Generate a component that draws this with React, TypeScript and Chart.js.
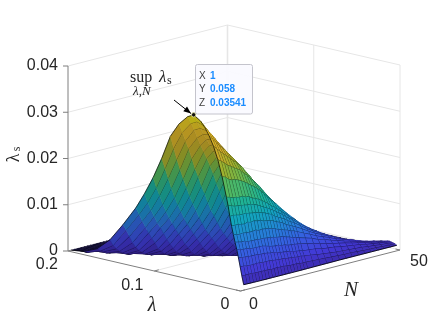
import React, { useEffect, useRef } from "react";
import { Chart, registerables } from "chart.js";

Chart.register(...registerables);

// Grid of the surface: N, lambda (x 1e-3) and the height (x 1e-3)
const nValues = [1, 2, 3, 4, 5, 6, 7, 8, 9, 10, 11, 12, 13, 14, 15, 16, 17, 18, 19, 20, 21, 23, 25, 27, 29, 31, 33, 35, 37, 39, 41, 43, 45, 47, 49];
const lambdaMilli = [0, 2, 4, 6, 8, 10, 12, 14, 16, 18, 20, 25, 30, 35, 40, 45, 50, 58, 65, 75, 85, 95, 105, 115, 125, 140, 155, 170, 185, 200];
const zMilliCoarse = [
  [1.2, 4.8, 8.4, 11.5, 15.2, 19.2, 23.4, 26.9, 29.6, 31.6, 33.2, 34.4, 35.4, 34.7, 32.7, 29.6, 24.4, 19.8, 15.9, 12.4, 8.1, 4.2, 1.6, 0.4, 0],
  [1.2, 4.9, 8.4, 11.4, 15.5, 19.3, 23.5, 26.8, 29.3, 31.2, 32.8, 33.8, 34.3, 33.6, 31.2, 27.3, 22.4, 17.8, 14.1, 11.0, 6.9, 2.9, 1.0, 0, 0],
  [1.2, 4.8, 8.3, 11.5, 15.6, 19.3, 23.2, 26.6, 29.0, 30.8, 32.4, 33.0, 33.2, 32.5, 29.6, 25.1, 20.4, 16.1, 12.4, 9.5, 5.4, 2.0, 0.7, 0, 0],
  [1.2, 4.8, 8.4, 11.7, 15.6, 19.4, 23.1, 26.2, 28.6, 30.3, 31.7, 32.3, 32.0, 30.9, 28.0, 22.9, 18.2, 14.1, 10.9, 8.0, 3.9, 1.3, 0.2, 0, 0],
  [1.2, 4.8, 8.3, 11.7, 15.7, 19.4, 23.2, 26.0, 28.2, 29.8, 30.9, 31.5, 30.9, 29.3, 25.8, 20.8, 16.1, 12.4, 9.3, 6.6, 2.7, 0.8, 0, 0, 0],
  [1.2, 4.9, 8.2, 11.7, 15.8, 19.5, 23.0, 25.6, 27.6, 29.2, 30.0, 30.2, 29.5, 27.7, 23.4, 18.7, 14.3, 10.8, 8.1, 5.2, 1.8, 0.3, 0, 0, 0],
  [1.2, 4.9, 8.2, 11.7, 15.7, 19.2, 22.7, 25.2, 26.9, 28.3, 29.0, 29.0, 28.0, 26.1, 21.5, 16.6, 12.6, 9.4, 6.6, 4.0, 1.2, 0, 0, 0, 0],
  [1.2, 4.8, 8.2, 11.9, 15.6, 19.2, 22.3, 24.8, 26.4, 27.5, 28.2, 27.8, 26.4, 24.3, 19.2, 14.7, 10.9, 7.9, 5.1, 2.5, 0.6, 0, 0, 0, 0],
  [1.2, 4.8, 8.2, 11.6, 15.5, 18.7, 21.8, 24.0, 25.6, 26.6, 26.9, 26.5, 24.7, 22.3, 17.3, 13.0, 9.3, 6.6, 3.9, 1.8, 0.3, 0, 0, 0, 0],
  [1.2, 4.8, 8.0, 11.7, 15.3, 18.4, 21.2, 23.3, 24.9, 25.6, 25.5, 25.2, 23.0, 20.0, 15.1, 11.1, 8.0, 5.3, 2.7, 1.0, 0, 0, 0, 0, 0],
  [1.2, 4.7, 7.8, 11.6, 15.1, 18.0, 20.7, 22.5, 23.8, 24.5, 24.1, 23.5, 21.3, 17.9, 13.1, 9.6, 6.7, 3.9, 1.7, 0.6, 0, 0, 0, 0, 0],
  [1.2, 4.6, 7.6, 11.5, 14.9, 17.6, 20.1, 21.8, 22.9, 23.3, 22.8, 21.9, 19.3, 15.8, 11.6, 8.0, 5.4, 2.9, 1.2, 0.2, 0, 0, 0, 0, 0],
  [1.2, 4.5, 7.5, 11.3, 14.5, 17.1, 19.4, 20.9, 21.7, 21.8, 21.3, 20.1, 17.1, 13.9, 9.9, 6.8, 4.2, 1.8, 0.7, 0, 0, 0, 0, 0, 0],
  [1.2, 4.5, 7.5, 11.1, 14.2, 16.5, 18.6, 20.1, 20.7, 20.5, 19.8, 18.4, 15.2, 12.0, 8.3, 5.6, 3.0, 1.0, 0.2, 0, 0, 0, 0, 0, 0],
  [1.2, 4.4, 7.2, 10.7, 13.6, 15.8, 17.7, 19.0, 19.5, 19.1, 18.1, 16.9, 13.3, 10.3, 7.0, 4.5, 2.0, 0.7, 0, 0, 0, 0, 0, 0, 0],
  [1.2, 4.3, 7.2, 10.5, 13.2, 15.3, 16.9, 18.0, 18.2, 17.8, 16.6, 14.8, 11.3, 8.7, 5.8, 3.2, 1.2, 0.3, 0, 0, 0, 0, 0, 0, 0],
  [1.2, 4.2, 6.9, 10.2, 12.8, 14.6, 16.2, 17.0, 17.0, 16.3, 15.1, 13.2, 9.8, 7.4, 4.7, 2.4, 0.7, 0, 0, 0, 0, 0, 0, 0, 0],
  [1.2, 4.1, 6.8, 10.0, 12.4, 14.0, 15.4, 16.0, 15.8, 15.0, 13.7, 11.6, 8.4, 6.3, 3.8, 1.5, 0.4, 0, 0, 0, 0, 0, 0, 0, 0],
  [1.2, 4.0, 6.7, 9.6, 11.8, 13.3, 14.5, 15.0, 14.6, 13.6, 12.0, 10.0, 7.1, 5.1, 2.9, 1.0, 0.2, 0, 0, 0, 0, 0, 0, 0, 0],
  [1.2, 4.0, 6.6, 9.4, 11.3, 12.7, 13.7, 13.9, 13.4, 12.3, 10.4, 8.7, 6.0, 4.1, 2.0, 0.5, 0, 0, 0, 0, 0, 0, 0, 0, 0],
  [1.2, 3.8, 6.4, 9.0, 10.9, 11.9, 12.8, 12.8, 12.2, 10.9, 9.0, 7.2, 4.9, 3.3, 1.2, 0.3, 0, 0, 0, 0, 0, 0, 0, 0, 0],
  [1.2, 3.6, 6.0, 8.2, 9.7, 10.7, 11.2, 10.9, 9.9, 8.3, 6.5, 5.1, 3.2, 1.8, 0.4, 0, 0, 0, 0, 0, 0, 0, 0, 0, 0],
  [1.2, 3.3, 5.6, 7.5, 8.6, 9.3, 9.5, 8.9, 7.8, 6.1, 4.7, 3.5, 2.0, 0.8, 0.1, 0, 0, 0, 0, 0, 0, 0, 0, 0, 0],
  [1.2, 3.1, 5.2, 6.7, 7.6, 8.1, 8.0, 7.2, 5.8, 4.4, 3.2, 2.3, 1.0, 0.3, 0, 0, 0, 0, 0, 0, 0, 0, 0, 0, 0],
  [1.2, 2.9, 4.8, 6.1, 6.8, 7.1, 6.7, 5.6, 4.2, 3.0, 2.1, 1.3, 0.3, 0, 0, 0, 0, 0, 0, 0, 0, 0, 0, 0, 0],
  [1.2, 2.7, 4.4, 5.5, 6.0, 6.0, 5.4, 4.2, 3.0, 2.0, 1.3, 0.6, 0.1, 0, 0, 0, 0, 0, 0, 0, 0, 0, 0, 0, 0],
  [1.2, 2.6, 4.1, 4.9, 5.3, 5.1, 4.3, 3.0, 2.0, 1.3, 0.6, 0.2, 0, 0, 0, 0, 0, 0, 0, 0, 0, 0, 0, 0, 0],
  [1.2, 2.5, 3.8, 4.4, 4.6, 4.3, 3.3, 2.2, 1.4, 0.7, 0.2, 0, 0, 0, 0, 0, 0, 0, 0, 0, 0, 0, 0, 0, 0],
  [1.2, 2.4, 3.4, 3.9, 3.9, 3.5, 2.5, 1.5, 0.9, 0.3, 0.1, 0, 0, 0, 0, 0, 0, 0, 0, 0, 0, 0, 0, 0, 0],
  [1.2, 2.3, 3.1, 3.5, 3.4, 2.7, 1.8, 1.0, 0.4, 0.1, 0, 0, 0, 0, 0, 0, 0, 0, 0, 0, 0, 0, 0, 0, 0],
  [1.2, 2.1, 2.8, 3.0, 2.8, 2.1, 1.2, 0.6, 0.2, 0, 0, 0, 0, 0, 0, 0, 0, 0, 0, 0, 0, 0, 0, 0, 0],
  [1.2, 2.0, 2.5, 2.6, 2.3, 1.5, 0.8, 0.3, 0.1, 0, 0, 0, 0, 0, 0, 0, 0, 0, 0, 0, 0, 0, 0, 0, 0],
  [1.2, 1.8, 2.2, 2.3, 1.8, 1.1, 0.5, 0.1, 0, 0, 0, 0, 0, 0, 0, 0, 0, 0, 0, 0, 0, 0, 0, 0, 0],
  [1.2, 1.7, 2.0, 1.9, 1.3, 0.7, 0.3, 0, 0, 0, 0, 0, 0, 0, 0, 0, 0, 0, 0, 0, 0, 0, 0, 0, 0],
  [1.2, 1.5, 1.7, 1.5, 1.0, 0.5, 0.1, 0, 0, 0, 0, 0, 0, 0, 0, 0, 0, 0, 0, 0, 0, 0, 0, 0, 0],
];
// Heights at lambda = 2, 6, 10, 14, 18 (x 1e-3), the near face needs the finer rows
const zMilliFine = [
  [2.9, 6.7, 9.9, 13.2, 17.4], [3.0, 6.7, 9.9, 13.4, 17.5], [3.0, 6.7, 9.9, 13.6, 17.5], [3.1, 6.7, 10.0, 13.6, 17.6],
  [3.0, 6.7, 9.8, 13.6, 17.6], [3.0, 6.7, 9.8, 13.9, 17.6], [3.0, 6.7, 9.8, 13.7, 17.5], [3.0, 6.6, 9.8, 13.9, 17.5],
  [3.0, 6.6, 9.7, 13.7, 17.3], [2.9, 6.5, 9.7, 13.6, 17.0], [2.9, 6.3, 9.6, 13.3, 16.6], [3.0, 6.3, 9.5, 13.2, 16.2],
  [2.9, 6.1, 9.4, 13.0, 15.8], [2.9, 5.9, 9.2, 12.8, 15.4], [2.8, 5.8, 9.1, 12.4, 14.9], [2.7, 5.7, 9.0, 12.1, 14.4],
  [2.7, 5.6, 8.7, 11.8, 13.8], [2.7, 5.4, 8.5, 11.2, 13.3], [2.6, 5.2, 8.2, 10.8, 12.6], [2.5, 5.1, 8.0, 10.4, 12.0],
  [2.5, 4.9, 7.7, 10.0, 11.5], [2.4, 4.7, 7.2, 9.1, 10.2], [2.3, 4.5, 6.7, 8.1, 9.0], [2.2, 4.1, 6.0, 7.2, 7.9],
  [2.1, 3.9, 5.6, 6.5, 7.0], [2.0, 3.7, 5.0, 5.8, 6.1], [1.9, 3.4, 4.6, 5.2, 5.2], [1.9, 3.2, 4.1, 4.5, 4.5],
  [1.8, 3.0, 3.7, 4.0, 3.8], [1.7, 2.8, 3.3, 3.5, 3.1], [1.6, 2.5, 2.9, 2.9, 2.5], [1.6, 2.3, 2.6, 2.5, 1.9],
  [1.5, 2.1, 2.3, 2.1, 1.4], [1.4, 1.9, 2.0, 1.6, 1.0], [1.4, 1.6, 1.7, 1.3, 0.7],
];
const heightTrimByN = [
  1, 0.985, 0.97, 0.96, 0.952, 0.948, 0.945, 0.943, 0.942, 0.942, 0.942, 0.94, 0.94, 0.94, 0.94, 0.94, 0.94, 0.942, 0.943, 0.945,
  0.95, 0.96, 0.97, 0.98, 0.99, 1, 1, 1, 1, 1, 1, 1, 1, 1, 1,
];
const zMilliByN = zMilliCoarse.map((r, i) => {
  const f = zMilliFine[i];
  return [r[0], f[0], r[1], f[1], r[2], f[2], r[3], f[3], r[4], f[4], ...r.slice(5)].map((v) => v * heightTrimByN[i]);
});

const zTicks = [0, 0.01, 0.02, 0.03, 0.04];
const zTickLabels = ["0", "0.01", "0.02", "0.03", "0.04"];
const lambdaTicks = [0, 0.1, 0.2];
const lambdaTickLabels = ["0", "0.1", "0.2"];
const nTicks = [0, 50];
const nTickLabels = ["0", "50"];
const tipValues = { x: 1, y: 0.058, z: 0.03541 };
const tipTexts = [["X", "1"], ["Y", "0.058"], ["Z", "0.03541"]];

const parula = [
  [62, 38, 168], [72, 62, 232], [60, 100, 245], [38, 145, 232], [20, 180, 205],
  [35, 195, 160], [95, 200, 100], [170, 192, 50], [225, 185, 45], [250, 205, 45], [249, 251, 21],
];

const ZMAX = 0.04;
const N_MAX = 50;
const L_MAX = 0.2;

// Orthographic view of the MATLAB 3-D axes, in the units of the chart's own x and y scales
function project(n: number, l: number, z: number) {
  const a = n / N_MAX;
  const b = l / L_MAX;
  return { x: 240.5 + 159.5 * a - 172.5 * b, y: 291 - 41 * a - 40 * b - 185 * (z / ZMAX) };
}

function colourFor(z: number, shade: number) {
  const t = Math.max(0, Math.min(1, z / 0.03541)) * (parula.length - 1);
  const i = Math.min(parula.length - 2, Math.floor(t));
  const f = t - i;
  const c = parula[i].map((v, k) => Math.round((v + (parula[i + 1][k] - v) * f) * shade));
  return `rgb(${c[0]},${c[1]},${c[2]})`;
}

function polyline(data: { x: number; y: number }[], color: string, width: number) {
  return { data, borderColor: color, borderWidth: width, showLine: true, pointRadius: 0, fill: false, tension: 0 };
}

function buildDatasets() {
  const out: any[] = [];
  const tip = project(tipValues.x, tipValues.y, tipValues.z);
  out.push({ data: [tip], pointRadius: 2.2, pointBackgroundColor: "#111111", pointBorderColor: "#e8e8a0", pointBorderWidth: 0.8, showLine: false });

  const vertex = (a: number, b: number) => project(nValues[a], lambdaMilli[b] / 1000, zMilliByN[a][b] / 1000);
  for (let i = 0; i < nValues.length - 1; i++) {
    for (let j = 0; j < lambdaMilli.length - 1; j++) {
      const q = [vertex(i, j), vertex(i + 1, j), vertex(i + 1, j + 1), vertex(i, j + 1)];
      let area = 0;
      for (let k = 0; k < 4; k++) {
        const p = q[k];
        const r = q[(k + 1) % 4];
        area += p.x * r.y - r.x * p.y;
      }
      const underside = area > 0;
      const mean = (zMilliByN[i][j] + zMilliByN[i + 1][j] + zMilliByN[i + 1][j + 1] + zMilliByN[i][j + 1]) / 4000;
      const flat = mean < 0.0002;
      const fill = flat ? "rgb(18,14,56)" : colourFor(mean, underside ? 0.74 : 0.92);
      // near edges go first in the list, so they are painted over the cell
      out.push(polyline([q[0], q[3]], underside ? "rgba(0,0,0,0.72)" : "rgba(0,0,0,0.7)", underside ? 0.9 : 1));
      out.push(polyline([q[0], q[1]], underside ? "rgba(0,0,0,0.14)" : "rgba(0,0,0,0.85)", underside ? 0.9 : 1));
      out.push({
        data: [q[0], q[1], q[2], q[3], q[0]],
        showLine: true,
        fill: "shape",
        tension: 0,
        pointRadius: 0,
        backgroundColor: fill,
        borderColor: fill,
        borderWidth: 0.5,
      });
    }
  }

  const axis = "#7f7f7f";
  out.push(polyline([project(0, L_MAX, 0), project(0, L_MAX, ZMAX)], axis, 1));
  out.push(polyline([project(0, L_MAX, 0), project(0, 0, 0)], axis, 1));
  out.push(polyline([project(0, 0, 0), project(N_MAX, 0, 0)], axis, 1));

  const grid = "#e6e6e6";
  for (const z of zTicks) {
    out.push(polyline([project(0, L_MAX, z), project(N_MAX, L_MAX, z), project(N_MAX, 0, z)], grid, 1));
  }
  out.push(polyline([project(N_MAX, L_MAX, 0), project(N_MAX, L_MAX, ZMAX)], grid, 1.6));
  out.push(polyline([project(N_MAX, 0.1, 0), project(N_MAX, 0.1, ZMAX)], grid, 1));
  out.push(polyline([project(N_MAX, 0, 0), project(N_MAX, 0, ZMAX)], grid, 1));
  out.push(polyline([project(0, 0.1, 0), project(N_MAX, 0.1, 0)], grid, 1));
  return out;
}

const SANS = '"Liberation Sans", Arial, sans-serif';
const SERIF = '"Liberation Serif", "DejaVu Serif", serif';
const INK = "#262626";

const labelsPlugin = {
  id: "labels3d",
  afterDraw(chart: any) {
    const { ctx } = chart;
    const sx = (v: number) => chart.scales.x.getPixelForValue(v);
    const sy = (v: number) => chart.scales.y.getPixelForValue(v);
    const put = (t: string, x: number, y: number, font: string, align: CanvasTextAlign = "center", color = INK) => {
      ctx.font = font;
      ctx.fillStyle = color;
      ctx.textAlign = align;
      ctx.textBaseline = "middle";
      ctx.fillText(t, sx(x), sy(y));
    };
    ctx.save();

    // tick marks and tick labels
    ctx.strokeStyle = "#7f7f7f";
    ctx.lineWidth = 1;
    const tick = (a: { x: number; y: number }, dx: number, dy: number) => {
      ctx.beginPath();
      ctx.moveTo(sx(a.x), sy(a.y));
      ctx.lineTo(sx(a.x + dx), sy(a.y + dy));
      ctx.stroke();
    };
    zTicks.forEach((z, i) => {
      const p = project(0, L_MAX, z);
      tick(p, -5, 0);
      put(zTickLabels[i], p.x - 10, p.y, `16px ${SANS}`, "right");
    });
    lambdaTicks.forEach((l, i) => {
      const p = project(0, l, 0);
      tick(p, 4.5, -1.2);
      const offs = [[-15.5, 14], [-22, 15], [-10, 14]][i];
      put(lambdaTickLabels[i], p.x + offs[0], p.y + offs[1], `16px ${SANS}`, i === 2 ? "right" : "center");
    });
    nTicks.forEach((n, i) => {
      const p = project(n, 0, 0);
      tick(p, -4.5, -1);
      const offs = [[13, 14], [19, 12]][i];
      put(nTickLabels[i], p.x + offs[0], p.y + offs[1], `16px ${SANS}`);
    });

    // axis titles
    put("\u03bb", 152, 306, `italic 20px ${SERIF}`);
    put("N", 351, 290, `italic 21px ${SERIF}`);
    ctx.save();
    ctx.translate(sx(14), sy(155));
    ctx.rotate(-Math.PI / 2);
    ctx.font = `18px ${SERIF}`;
    ctx.fillStyle = INK;
    ctx.textAlign = "center";
    ctx.textBaseline = "middle";
    ctx.fillText("\u03bb", -3, 0);
    ctx.font = `12px ${SERIF}`;
    ctx.fillText("s", 6, 3);
    ctx.restore();

    // annotation
    put("sup", 130, 78, `16px ${SERIF}`, "left");
    put("\u03bb", 159, 78, `italic 17px ${SERIF}`, "left");
    put("s", 167, 81, `12px ${SERIF}`, "left");
    put("\u03bb,N", 133, 92, `italic 13px ${SERIF}`, "left");

    // arrow
    const ax = sx(174), ay = sy(100), bx = sx(191), by = sy(113.5);
    ctx.strokeStyle = "#000000";
    ctx.fillStyle = "#000000";
    ctx.lineWidth = 1;
    ctx.beginPath();
    ctx.moveTo(ax, ay);
    ctx.lineTo(bx, by);
    ctx.stroke();
    const ang = Math.atan2(by - ay, bx - ax);
    ctx.beginPath();
    ctx.moveTo(bx, by);
    ctx.lineTo(bx - 8 * Math.cos(ang - 0.38), by - 8 * Math.sin(ang - 0.38));
    ctx.lineTo(bx - 8 * Math.cos(ang + 0.38), by - 8 * Math.sin(ang + 0.38));
    ctx.closePath();
    ctx.fill();

    // data tip
    ctx.beginPath();
    ctx.roundRect(sx(195.5), sy(64.5), 57, 49.5, 2);
    ctx.fillStyle = "rgba(250,250,255,0.96)";
    ctx.fill();
    ctx.strokeStyle = "#c4c4cc";
    ctx.lineWidth = 1;
    ctx.stroke();
    tipTexts.forEach(([k, v], i) => {
      const y = 76 + i * 13.7;
      put(k, 199, y, `10px ${SANS}`, "left", "#404040");
      put(v, 210, y, `bold 10px ${SANS}`, "left", "#1a8cff");
    });
    ctx.restore();
  },
};

export default function App() {
  const ref = useRef<HTMLCanvasElement | null>(null);
  useEffect(() => {
    document.body.style.margin = "0";
    document.body.style.background = "#ffffff";
    const chart = new Chart(ref.current as HTMLCanvasElement, {
      type: "scatter",
      data: { datasets: buildDatasets() },
      options: {
        animation: false,
        responsive: false,
        maintainAspectRatio: false,
        layout: { padding: 0, autoPadding: false },
        events: [],
        plugins: { legend: { display: false }, tooltip: { enabled: false }, title: { display: false } },
        scales: {
          x: { type: "linear", min: 0, max: 442, display: false },
          y: { type: "linear", min: 0, max: 327, reverse: true, display: false },
        },
      },
      plugins: [labelsPlugin],
    } as any);
    return () => chart.destroy();
  }, []);
  return <canvas ref={ref} width={442} height={327} style={{ display: "block", width: 442, height: 327 }} />;
}
